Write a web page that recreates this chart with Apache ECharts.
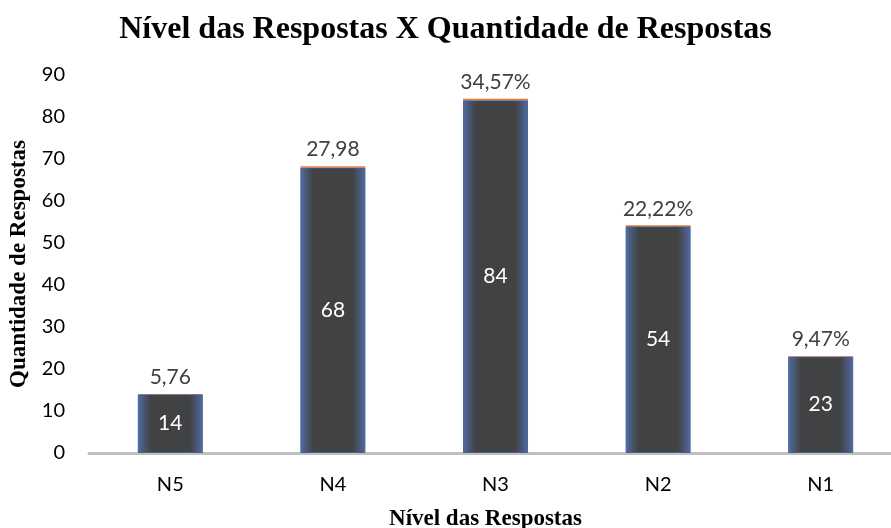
<!DOCTYPE html>
<html>
<head>
<meta charset="utf-8">
<script src="https://cdn.jsdelivr.net/npm/echarts@6/dist/echarts.min.js"></script>
<style>
  html, body { margin: 0; padding: 0; background: #fff; }
  #chart { width: 891px; height: 528px; }
</style>
</head>
<body>
<div id="chart"></div>
<script>
// Response levels and counts
const categories = ['N5', 'N4', 'N3', 'N2', 'N1'];
const counts = [14, 68, 84, 54, 23];
// Share of responses (percent) shown above each column
const shares = [5.76, 27.98, 34.57, 22.22, 9.47];
const shareLabels = ['5,76', '27,98', '34,57%', '22,22%', '9,47%'];
const yTicks = [0, 10, 20, 30, 40, 50, 60, 70, 80, 90];

const labelFont = 'Lato, "Open Sans", sans-serif';
const serif = '"Liberation Serif", "DejaVu Serif", serif';

const chart = echarts.init(document.getElementById('chart'), null, { renderer: 'canvas' });

// dark column with a soft blue glow along its sides
const barFill = new echarts.graphic.LinearGradient(0, 0, 1, 0, [
  { offset: 0, color: '#4f6ea8' },
  { offset: 0.08, color: '#4a5a7a' },
  { offset: 0.2, color: '#414244' },
  { offset: 0.8, color: '#414244' },
  { offset: 0.92, color: '#4a5a7a' },
  { offset: 1, color: '#4f6ea8' }
]);

chart.setOption({
  animation: false,
  backgroundColor: '#ffffff',
  title: {
    text: 'Nível das Respostas X Quantidade de Respostas',
    left: 'center',
    top: 9,
    textStyle: { fontFamily: serif, fontWeight: 'bold', fontSize: 32, color: '#000' }
  },
  grid: { left: 89, right: -11, top: 75, bottom: 75, containLabel: false, outerBoundsMode: 'none' },
  xAxis: {
    type: 'category',
    data: categories,
    name: 'Nível das Respostas',
    nameLocation: 'middle',
    nameGap: 55,
    nameTextStyle: { fontFamily: serif, fontWeight: 'bold', fontSize: 23, color: '#000', padding: [0, 0, 0, -20] },
    axisLine: { lineStyle: { color: '#bfbfbf', width: 3 } },
    axisTick: { show: false },
    axisLabel: { fontFamily: labelFont, fontSize: 20, color: '#000', margin: 22 }
  },
  yAxis: {
    type: 'value',
    min: 0,
    max: 90,
    interval: 10,
    name: 'Quantidade de Respostas',
    nameLocation: 'middle',
    nameGap: 58,
    nameTextStyle: { fontFamily: serif, fontWeight: 'bold', fontSize: 23, color: '#000' },
    splitLine: { show: false },
    axisLine: { show: false },
    axisTick: { show: false },
    axisLabel: {
      fontFamily: labelFont, fontSize: 20, color: '#000', margin: 24,
      formatter: v => (yTicks.includes(v) ? String(v) : '')
    }
  },
  series: [
    {
      name: 'Quantidade',
      type: 'bar',
      stack: 'total',
      data: counts,
      barWidth: '40%',
      itemStyle: { color: barFill, borderColor: '#4a639a', borderWidth: 1 },
      label: {
        show: true,
        position: 'inside',
        fontFamily: labelFont,
        fontSize: 21,
        color: '#ffffff'
      }
    },
    {
      name: 'Percentual',
      type: 'bar',
      stack: 'total',
      data: shares.map(p => p / 100),
      barWidth: '40%',
      itemStyle: { color: '#ed7d31' },
      label: {
        show: true,
        position: 'top',
        distance: 6,
        fontFamily: labelFont,
        fontSize: 21,
        color: '#404040',
        formatter: p => shareLabels[p.dataIndex]
      }
    }
  ]
});
</script>
</body>
</html>
